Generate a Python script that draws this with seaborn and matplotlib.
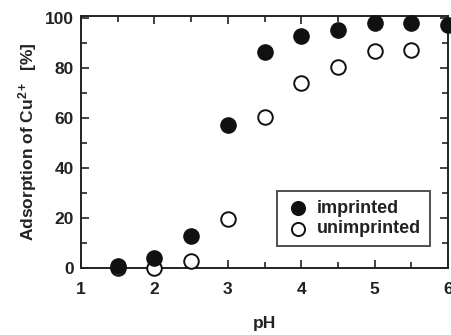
import numpy as np
import pandas as pd
import matplotlib
matplotlib.use("Agg")
import matplotlib.pyplot as plt
import seaborn as sns
from matplotlib.ticker import MultipleLocator

ph_imp = [1.5, 2.0, 2.5, 3.0, 3.5, 4.0, 4.5, 5.0, 5.5, 6.0]
ads_imp = [1, 4, 13, 57.5, 86.5, 93, 95.5, 98, 98, 97.5]
ph_unimp = [1.5, 2.0, 2.5, 3.0, 3.5, 4.0, 4.5, 5.0, 5.5]
ads_unimp = [0, 0, 3, 19.5, 60.5, 74, 80.5, 87, 87.5]
x_ticks = [1, 2, 3, 4, 5, 6]
y_ticks = [0, 20, 40, 60, 80, 100]

sns.set_style("ticks")
plt.rcParams['font.family'] = ['Liberation Sans', 'DejaVu Sans']
plt.rcParams['mathtext.fontset'] = 'custom'
plt.rcParams['mathtext.rm'] = 'Liberation Sans:bold'
plt.rcParams['mathtext.it'] = 'Liberation Sans:bold'
plt.rcParams['mathtext.bf'] = 'Liberation Sans:bold'
plt.rcParams['mathtext.default'] = 'rm'

df_imp = pd.DataFrame({"pH": ph_imp, "ads": ads_imp})
df_un = pd.DataFrame({"pH": ph_unimp, "ads": ads_unimp})

fig = plt.figure(figsize=(4.51, 3.35), dpi=100)
ax = fig.add_axes([81/451, 1-268/335, (448-81)/451, (268-16)/335])

sns.scatterplot(data=df_un, x="pH", y="ads", ax=ax, s=110, marker="o",
                facecolor="white", edgecolor="#111111", linewidth=1.4,
                label="unimprinted", zorder=3, clip_on=False)
sns.scatterplot(data=df_imp, x="pH", y="ads", ax=ax, s=120, marker="o",
                color="#111111", edgecolor="#111111", linewidth=1,
                label="imprinted", zorder=4, clip_on=False)

ax.set_xlim(1, 6)
ax.set_ylim(0, 101)
ax.set_xticks(x_ticks)
ax.set_yticks(y_ticks)
ax.xaxis.set_minor_locator(MultipleLocator(0.5))
ax.yaxis.set_minor_locator(MultipleLocator(10))
ax.tick_params(which="both", direction="in", top=True, right=True,
               width=1.2, colors="#222222", labelcolor="#222222")
ax.tick_params(which="major", length=6, labelsize=12.5)
ax.tick_params(axis="x", which="major", pad=10)
ax.tick_params(axis="y", which="major", pad=5)
ax.tick_params(which="minor", length=4)
for lab in ax.get_xticklabels() + ax.get_yticklabels():
    lab.set_fontweight("bold")
for sp in ax.spines.values():
    sp.set_linewidth(1.4)
    sp.set_color("#222222")

ax.set_xlabel("pH", fontsize=12.5, fontweight="bold", color="#222222", labelpad=14)
ax.set_ylabel("Adsorption of Cu$^{2+}$  [%]", fontsize=12.5, fontweight="bold",
              color="#222222", labelpad=4)

h, l = ax.get_legend_handles_labels()
order = [l.index("imprinted"), l.index("unimprinted")]
leg = ax.legend([h[i] for i in order], [l[i] for i in order],
                loc="lower right", bbox_to_anchor=(0.975, 0.05),
                frameon=True, fancybox=False, edgecolor="#222222",
                handletextpad=0.4, borderpad=0.5,
                labelspacing=0.2, handlelength=1.3, markerscale=0.9,
                prop={"weight": "bold", "size": 13})
leg.get_frame().set_linewidth(1.4)
for t in leg.get_texts():
    t.set_color("#222222")

fig.savefig("out.png", dpi=100, facecolor="white")
